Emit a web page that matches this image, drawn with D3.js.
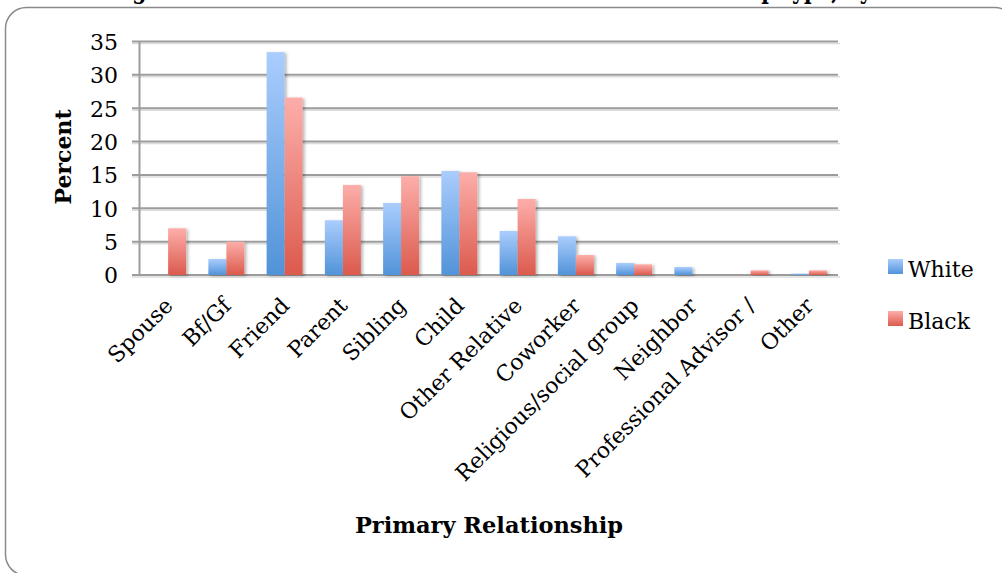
<!DOCTYPE html>
<html>
<head>
<meta charset="utf-8">
<script src="https://cdn.jsdelivr.net/npm/d3@7"></script>
<style>
  html, body { margin: 0; padding: 0; background: #fff; }
  svg { display: block; }
  text { font-family: "DejaVu Serif", serif; fill: #000; }
</style>
</head>
<body>
<svg id="chart" width="1002" height="573"></svg>
<script>
const categories = ["Spouse", "Bf/Gf", "Friend", "Parent", "Sibling", "Child", "Other Relative",
  "Coworker", "Religious/social group", "Neighbor", "Professional Advisor /", "Other"];
const seriesNames = ["White", "Black"];
const whiteValues = [0, 2.4, 33.4, 8.2, 10.8, 15.6, 6.6, 5.8, 1.8, 1.2, 0, 0.2];
const blackValues = [7.0, 5.0, 26.6, 13.5, 14.8, 15.4, 11.4, 3.0, 1.6, 0, 0.7, 0.7];
const yTicks = [0, 5, 10, 15, 20, 25, 30, 35];
const yTitle = "Percent";
const xTitle = "Primary Relationship";
const chartTitle = "Figure 4: Distribution of Most Trusted Other Relationship type, by Race";

(function () {
const svg = d3.select("#chart");
const defs = svg.append("defs");

function grad(id, c1, c2) {
  const g = defs.append("linearGradient").attr("id", id)
    .attr("x1", 0).attr("y1", 0).attr("x2", 0).attr("y2", 1);
  g.append("stop").attr("offset", "0%").attr("stop-color", c1);
  g.append("stop").attr("offset", "100%").attr("stop-color", c2);
}
grad("gWhite", "#aacdfd", "#5193d8");
grad("gBlack", "#fdaeaa", "#db5a4d");
const fill = { White: "url(#gWhite)", Black: "url(#gBlack)" };

const f = defs.append("filter").attr("id", "shadow")
  .attr("x", "-20%").attr("y", "-20%").attr("width", "160%").attr("height", "140%");
f.append("feDropShadow").attr("dx", 2).attr("dy", 1).attr("stdDeviation", 1.6)
  .attr("flood-color", "#000").attr("flood-opacity", 0.28);

// frame
svg.append("rect").attr("x", 5.5).attr("y", 7.5).attr("width", 1010).attr("height", 568)
  .attr("rx", 21).attr("ry", 21).attr("fill", "#fff").attr("stroke", "#8a8a8a").attr("stroke-width", 1.5);

// title (cut off by top of picture, as in the source: only descenders show)
svg.append("text").attr("x", 110).attr("y", -1).attr("text-anchor", "start")
  .attr("font-weight", "bold").attr("font-size", 26)
  .attr("textLength", 825).attr("lengthAdjust", "spacingAndGlyphs").text(chartTitle);

const pLeft = 139, pRight = 838, pTop = 41.5, pBottom = 275;

const x = d3.scaleBand().domain(categories).range([pLeft, pRight])
  .paddingInner(0.382).paddingOuter(0.191);
const xs = d3.scaleBand().domain(seriesNames).range([0, x.bandwidth()]);
const y = d3.scaleLinear().domain([0, 35]).range([pBottom, pTop]);

// gridlines with soft shadow
const grid = svg.append("g");
grid.selectAll("line.sh").data(yTicks).join("line").attr("class", "sh")
  .attr("x1", pLeft - 7).attr("x2", pRight + 2)
  .attr("y1", d => y(d) + 2).attr("y2", d => y(d) + 2)
  .attr("stroke", "#dcdcdc").attr("stroke-width", 1.5);
grid.selectAll("line.gl").data(yTicks).join("line").attr("class", "gl")
  .attr("x1", pLeft - 7).attr("x2", pRight)
  .attr("y1", d => y(d)).attr("y2", d => y(d))
  .attr("stroke", "#9c9c9c").attr("stroke-width", 2);

// y axis
const yAxis = svg.append("g").attr("transform", `translate(${pLeft},0)`)
  .call(d3.axisLeft(y).tickValues(yTicks).tickSize(0).tickPadding(21));
yAxis.select(".domain").attr("stroke", "#9c9c9c").attr("stroke-width", 2);
yAxis.selectAll("text").attr("font-size", 22).attr("font-family", "DejaVu Serif").attr("fill", "#000").attr("dy", "0.36em");

// bars
const data = categories.map((c, i) => ({ c, vals: [
  { s: "White", v: whiteValues[i] }, { s: "Black", v: blackValues[i] }] }));
const groups = svg.append("g").selectAll("g").data(data).join("g")
  .attr("transform", d => `translate(${x(d.c)},0)`);
groups.selectAll("rect").data(d => d.vals.filter(o => o.v > 0)).join("rect")
  .attr("x", d => xs(d.s)).attr("width", xs.bandwidth())
  .attr("y", d => y(d.v)).attr("height", d => y(0) - y(d.v))
  .attr("fill", d => fill[d.s]).attr("filter", "url(#shadow)");

// x labels
svg.append("g").selectAll("text").data(categories).join("text")
  .attr("text-anchor", "end").attr("font-size", 22)
  .attr("transform", d => `translate(${x(d) + x.bandwidth() / 2 + 6},${pBottom + 32}) rotate(-45)`)
  .text(d => d);

// axis titles
svg.append("text").attr("text-anchor", "middle").attr("font-weight", "bold").attr("font-size", 22)
  .attr("transform", `translate(${71},${157}) rotate(-90)`).text(yTitle);
svg.append("text").attr("text-anchor", "middle").attr("font-weight", "bold").attr("font-size", 22.5)
  .attr("x", 489).attr("y", 533).text(xTitle);

// legend
const lg = svg.append("g").selectAll("g").data(seriesNames).join("g")
  .attr("transform", (d, i) => `translate(888,${259 + i * 52})`);
lg.append("rect").attr("width", 15).attr("height", 15).attr("fill", d => fill[d]);
lg.append("text").attr("x", 20).attr("y", 18).attr("font-size", 22).text(d => d);
})();
</script>
</body>
</html>
